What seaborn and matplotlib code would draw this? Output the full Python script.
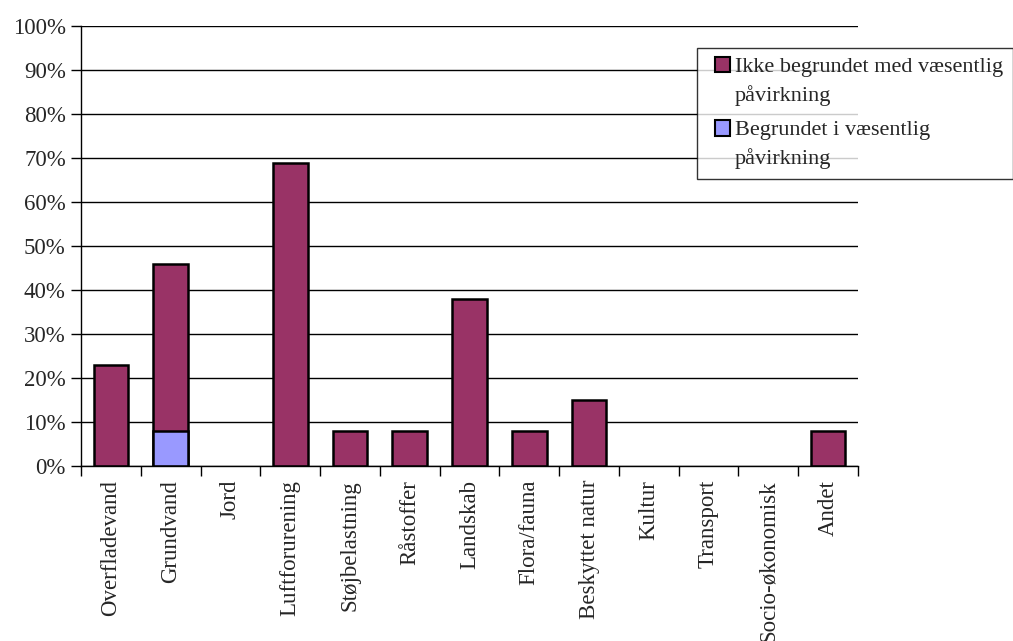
"""Stacked bar chart: share of cases per environmental topic."""

import matplotlib

matplotlib.use("Agg")

import matplotlib.pyplot as plt
import numpy as np
import pandas as pd
import seaborn as sns
from matplotlib.legend_handler import HandlerPatch
from matplotlib.patches import Patch, Rectangle
from matplotlib.ticker import FixedLocator, PercentFormatter

# Data (percent)
categories = [
    "Overfladevand",
    "Grundvand",
    "Jord",
    "Luftforurening",
    "Støjbelastning",
    "Råstoffer",
    "Landskab",
    "Flora/fauna",
    "Beskyttet natur",
    "Kultur",
    "Transport",
    "Socio-økonomisk",
    "Andet",
]
ikke_begrundet = [23, 38, 0, 69, 8, 8, 38, 8, 15, 0, 0, 0, 8]
begrundet = [0, 8, 0, 0, 0, 0, 0, 0, 0, 0, 0, 0, 0]

label_ikke = "Ikke begrundet med væsentlig\npåvirkning"
label_begr = "Begrundet i væsentlig\npåvirkning"

PURPLE = "#993366"
LILAC = "#9999FF"
FONT_SIZE = 16.5
LEGEND_SIZE = 16
LINE_SPACING = 1.5

sns.set_theme(style="white")
plt.rcParams["font.family"] = ["Liberation Serif", "DejaVu Serif"]
plt.rcParams["font.size"] = FONT_SIZE

df = pd.DataFrame(
    {
        "kategori": categories,
        "total": np.array(ikke_begrundet) + np.array(begrundet),
        "begrundet": begrundet,
    }
)

fig = plt.figure(figsize=(10.13, 6.41), dpi=100)
ax = fig.add_axes([0.080, 0.273, 0.767, 0.686])

bar_kw = dict(width=0.58, edgecolor="black", linewidth=1.8, saturation=1)
sns.barplot(data=df, x="kategori", y="total", color=PURPLE, ax=ax, **bar_kw)
sns.barplot(data=df, x="kategori", y="begrundet", color=LILAC, ax=ax, **bar_kw)

# hide the empty bars so they don't thicken the axis line
for patch in ax.patches:
    if patch.get_height() == 0:
        patch.set_visible(False)

ax.set_xlim(-0.5, len(categories) - 0.5)
ax.set_ylim(0, 100)
ax.set_yticks(np.arange(0, 101, 10))
ax.yaxis.set_major_formatter(PercentFormatter(decimals=0))
ax.set_xlabel("")
ax.set_ylabel("")

ax.grid(axis="y", color="black", linewidth=1)
ax.set_axisbelow(True)
for side in ["top", "right"]:
    ax.spines[side].set_visible(False)
for side in ["left", "bottom"]:
    ax.spines[side].set_color("black")
    ax.spines[side].set_linewidth(1)

ax.tick_params(axis="x", which="major", length=0, rotation=90, pad=10, labelsize=FONT_SIZE)
ax.xaxis.set_minor_locator(FixedLocator(np.arange(-0.5, len(categories), 1)))
ax.tick_params(axis="x", which="minor", bottom=True, length=7, width=1, color="black")
ax.tick_params(axis="y", left=True, length=7, width=1, color="black", labelsize=FONT_SIZE, pad=4)
for lbl in ax.get_xticklabels():
    lbl.set_verticalalignment("top")


def first_line_box(legend, orig_handle, xdescent, ydescent, width, height, fontsize):
    """Small square drawn next to the first line of a two-line label."""
    side = 0.7 * fontsize
    y_shift = 0.5 * LINE_SPACING * fontsize
    return Rectangle(
        (-xdescent + width - side, -ydescent + (height - side) / 2 + y_shift),
        side,
        side,
    )


handles = [
    Patch(facecolor=PURPLE, edgecolor="black", linewidth=1.5, label=label_ikke),
    Patch(facecolor=LILAC, edgecolor="black", linewidth=1.5, label=label_begr),
]
leg = fig.legend(
    handles=handles,
    loc="upper left",
    bbox_to_anchor=(0.688, 0.925),
    frameon=True,
    fancybox=False,
    edgecolor="black",
    fontsize=LEGEND_SIZE,
    handler_map={Patch: HandlerPatch(patch_func=first_line_box)},
    handlelength=1.05,
    handleheight=0.75,
    handletextpad=0.2,
    labelspacing=0.7,
    borderpad=0.45,
    borderaxespad=0,
)
leg.get_frame().set_linewidth(1)
for txt in leg.get_texts():
    txt.set_linespacing(LINE_SPACING)

fig.savefig("out.png", dpi=100)
